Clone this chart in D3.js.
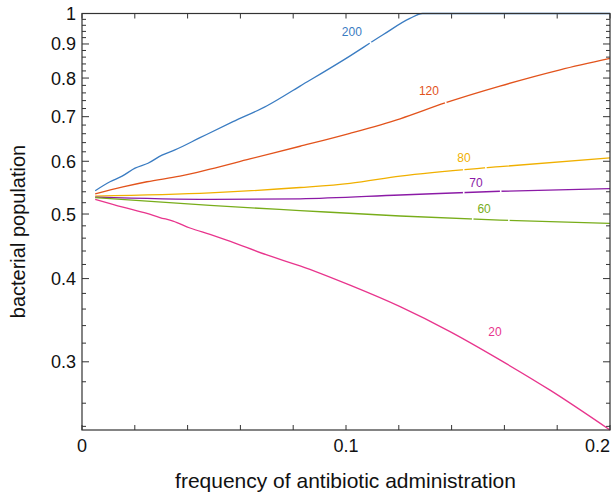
<!DOCTYPE html>
<html><head>
<meta charset="utf-8">
<script src="https://d3js.org/d3.v7.min.js"></script>
<style>
  body { margin: 0; background: #fff; }
  text { font-family: "Liberation Sans", Arial, Helvetica, sans-serif; }
  .frame { fill: none; stroke: #333; stroke-width: 1.2px; }
  .tick { stroke: #333; stroke-width: 1px; }
  .curve { fill: none; stroke-width: 1.3px; }
</style>
</head>
<body>
<svg id="chart" width="614" height="495"></svg>
<script>

// frequency of antibiotic administration
const blueX  = [0.005, 0.0106, 0.0152, 0.0201, 0.025, 0.0303, 0.0352, 0.0447, 0.0572, 0.0701, 0.0826, 0.0996, 0.114, 0.1242, 0.129, 0.2];
const blueY  = [0.542, 0.559, 0.570, 0.586, 0.596, 0.613, 0.624, 0.651, 0.688, 0.727, 0.778, 0.854, 0.929, 0.983, 1.0, 1.0];
const orangeX = [0.005, 0.0155, 0.0246, 0.0371, 0.0485, 0.0636, 0.0826, 0.1015, 0.1205, 0.1375, 0.1583, 0.1811, 0.2];
const orangeY = [0.536, 0.549, 0.559, 0.570, 0.584, 0.605, 0.632, 0.661, 0.695, 0.734, 0.778, 0.823, 0.856];
const yellowX = [0.005, 0.0485, 0.0826, 0.1015, 0.1205, 0.1583, 0.2];
const yellowY = [0.532, 0.538, 0.548, 0.556, 0.570, 0.589, 0.607];
const purpleX = [0.005, 0.0485, 0.0826, 0.1205, 0.1583, 0.2];
const purpleY = [0.530, 0.526, 0.527, 0.534, 0.541, 0.546];
const greenX = [0.005, 0.0485, 0.0826, 0.1205, 0.1583, 0.2];
const greenY = [0.529, 0.515, 0.506, 0.4966, 0.4897, 0.484];
const pinkX = [0.005, 0.0155, 0.0246, 0.0295, 0.0345, 0.0409, 0.0485, 0.0548, 0.07, 0.0826, 0.1015, 0.1205, 0.1394, 0.1583, 0.1773, 0.2];
const pinkY = [0.526, 0.512, 0.501, 0.494, 0.488, 0.4764, 0.466, 0.457, 0.434, 0.418, 0.391, 0.363, 0.333, 0.302, 0.272, 0.237];

const labels = ["200", "120", "80", "70", "60", "20"];
const colors = ["#3a7cc2", "#e2531c", "#f0b000", "#8b1aa6", "#78ad1a", "#e8358d"];
const labelX = [0.1022, 0.1314, 0.1447, 0.1492, 0.1523, 0.1564];
const labelY = [0.938, 0.765, 0.607, 0.558, 0.509, 0.3325];
// little breaks in the lines next to the labels
const gapX = [[0.109], [0.1375], [0.1443, 0.1527], [0.1443, 0.1583], [0.1477, 0.1614], []];

const xMajor = [0, 0.1, 0.2];
const yMajor = [0.3, 0.4, 0.5, 0.6, 0.7, 0.8, 0.9, 1];

const seriesX = [blueX, orangeX, yellowX, purpleX, greenX, pinkX];
const seriesY = [blueY, orangeY, yellowY, purpleY, greenY, pinkY];

const svg = d3.select("#chart");
const margin = {top: 13.5, right: 4, bottom: 65, left: 82};
const width = 614 - margin.left - margin.right;
const height = 495 - margin.top - margin.bottom;
const plot = svg.append("g").attr("transform", "translate(" + margin.left + "," + margin.top + ")");

const x = d3.scaleLinear().domain([0, 0.2]).range([0, width]);
const y = d3.scaleLog().domain([0.237, 1]).range([height, 0]);

// minor ticks
const xMinor = d3.range(0, 0.2001, 0.02);
const yMinor = d3.range(0.24, 0.99, 0.02).filter(v => !yMajor.some(m => Math.abs(m - v) < 1e-6));

const ticks = plot.append("g");
xMinor.forEach(v => {
  ticks.append("line").attr("class", "tick").attr("x1", x(v)).attr("x2", x(v)).attr("y1", height).attr("y2", height - 5);
  ticks.append("line").attr("class", "tick").attr("x1", x(v)).attr("x2", x(v)).attr("y1", 0).attr("y2", 5);
});
yMinor.forEach(v => {
  ticks.append("line").attr("class", "tick").attr("x1", 0).attr("x2", 4).attr("y1", y(v)).attr("y2", y(v));
  ticks.append("line").attr("class", "tick").attr("x1", width).attr("x2", width - 4).attr("y1", y(v)).attr("y2", y(v));
});
yMajor.forEach(v => {
  ticks.append("line").attr("class", "tick").attr("x1", 0).attr("x2", 7).attr("y1", y(v)).attr("y2", y(v));
  ticks.append("line").attr("class", "tick").attr("x1", width).attr("x2", width - 7).attr("y1", y(v)).attr("y2", y(v));
});

// tick labels
plot.selectAll(".ylab").data(yMajor).enter().append("text")
  .attr("x", -6).attr("y", d => y(d)).attr("dy", "0.36em")
  .attr("text-anchor", "end").attr("font-size", 18).attr("fill", "#111")
  .text(d => d3.format("~g")(d));
// last x label is kept inside the window, flush with the frame
plot.selectAll(".xlab").data(xMajor).enter().append("text")
  .attr("x", d => x(d)).attr("y", height + 22)
  .attr("text-anchor", (d, i) => i === xMajor.length - 1 ? "end" : "middle")
  .attr("font-size", 18).attr("fill", "#111")
  .text(d => d3.format("~g")(d));

// curves
const line = d3.line().curve(d3.curveMonotoneX).x(d => x(d[0])).y(d => y(d[1]));
seriesX.forEach((xs, i) => {
  const pts = xs.map((v, j) => [v, seriesY[i][j]]);
  plot.append("path").attr("class", "curve").attr("stroke", colors[i]).attr("d", line(pts));
  const interp = d3.scaleLinear().domain(xs).range(seriesY[i].map(Math.log));
  gapX[i].forEach(g => {
    const g2 = g + 0.0006;
    plot.append("line").attr("stroke", "#fff").attr("stroke-width", 2.6)
      .attr("x1", x(g)).attr("y1", y(Math.exp(interp(g))))
      .attr("x2", x(g2)).attr("y2", y(Math.exp(interp(g2))));
  });
  plot.append("text").attr("x", x(labelX[i])).attr("y", y(labelY[i])).attr("dy", "0.36em")
    .attr("text-anchor", "middle").attr("font-size", 12).attr("fill", colors[i])
    .text(labels[i]);
});

plot.append("rect").attr("class", "frame").attr("width", width).attr("height", height);

// axis titles
svg.append("text").attr("x", 345.5).attr("y", 488)
  .attr("text-anchor", "middle").attr("font-size", 21).attr("fill", "#111")
  .text("frequency of antibiotic administration");
svg.append("text").attr("transform", "translate(25,231.5) rotate(-90)")
  .attr("text-anchor", "middle").attr("font-size", 20).attr("fill", "#111")
  .text("bacterial population");

</script>
</body></html>
